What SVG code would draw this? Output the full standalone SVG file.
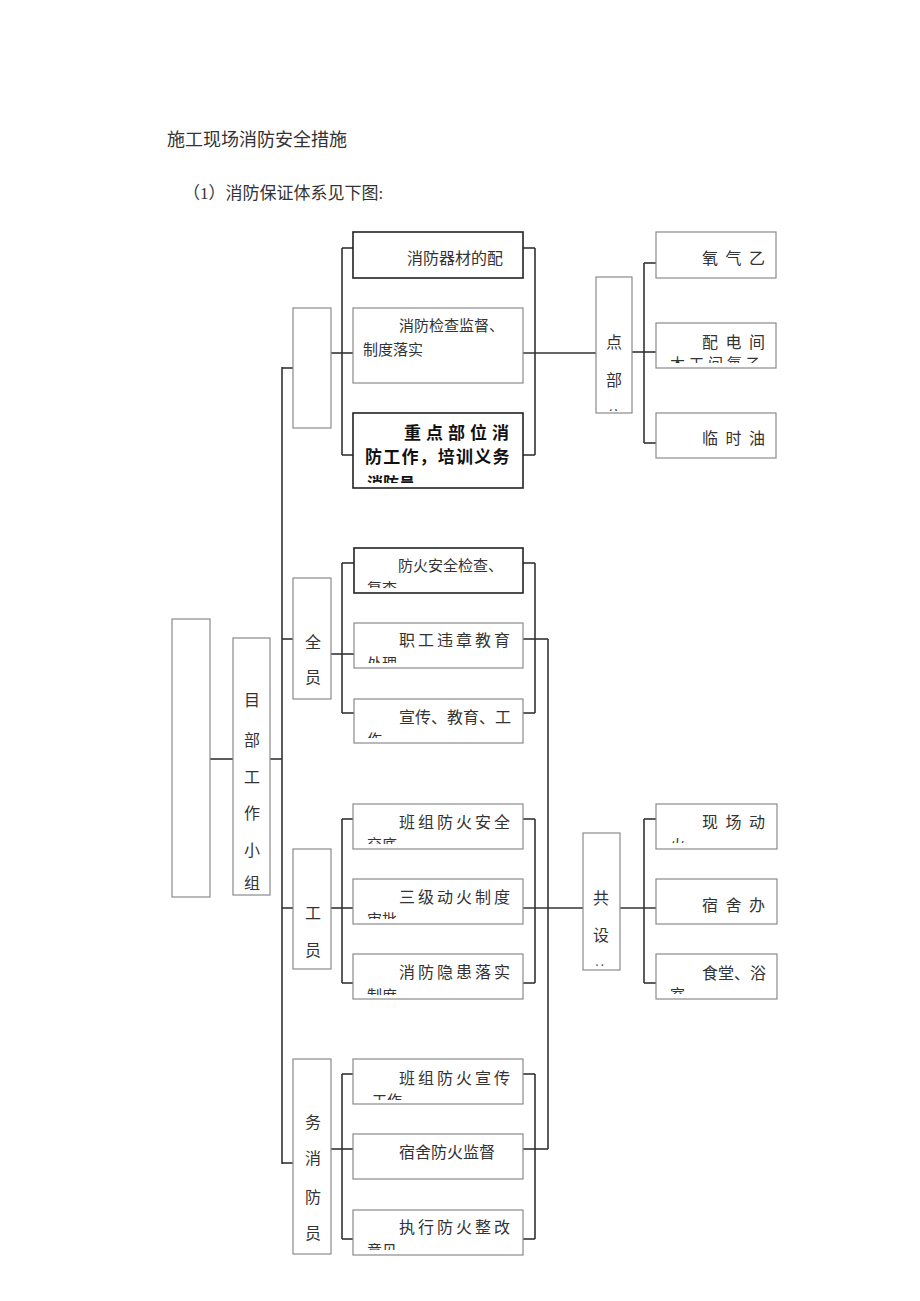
<svg xmlns="http://www.w3.org/2000/svg" width="920" height="1301" viewBox="0 0 920 1301">
<style>
.bg{fill:#fff}
.bx{fill:#fff;stroke:#8a8a8a;stroke-width:1.2}
.dk{fill:#fff;stroke:#222;stroke-width:1.6}
.t{font-family:"Liberation Serif","Noto Sans CJK SC",serif;font-size:16px;fill:#333}
.s{font-size:15px}
.b{font-weight:bold;fill:#111;font-size:17px}
.v{text-anchor:middle}
.cn line{stroke:#333;stroke-width:1.6}
</style>
<defs>
<clipPath id="cA3"><rect x="353" y="413" width="170" height="70"/></clipPath>
<clipPath id="cP"><rect x="596" y="277" width="36" height="134"/></clipPath>
<clipPath id="cR2"><rect x="656" y="323" width="120" height="40"/></clipPath>
<clipPath id="cB1"><rect x="354" y="548" width="169" height="40"/></clipPath>
<clipPath id="cB2"><rect x="354" y="623" width="169" height="40"/></clipPath>
<clipPath id="cB3"><rect x="354" y="699" width="169" height="39"/></clipPath>
<clipPath id="cC1"><rect x="353" y="804" width="170" height="40"/></clipPath>
<clipPath id="cC2"><rect x="353" y="879" width="170" height="40"/></clipPath>
<clipPath id="cC3"><rect x="353" y="954" width="170" height="41"/></clipPath>
<clipPath id="cS"><rect x="583" y="833" width="37" height="133"/></clipPath>
<clipPath id="cD1"><rect x="656" y="804" width="121" height="39"/></clipPath>
<clipPath id="cD3"><rect x="656" y="954" width="121" height="40"/></clipPath>
<clipPath id="cE1"><rect x="353" y="1059" width="170" height="41"/></clipPath>
<clipPath id="cE3"><rect x="353" y="1210" width="170" height="40"/></clipPath>
<clipPath id="cM"><rect x="233" y="638" width="37" height="253"/></clipPath>
</defs>
<rect class="bg" x="0" y="0" width="920" height="1301"/>
<text class="t" x="167" y="146" style="font-size:18px">施工现场消防安全措施</text>
<text class="t" x="183" y="199" style="font-size:17px">（1）消防保证体系见下图:</text>

<g class="cn" id="connectors">
<line x1="210" y1="759" x2="233" y2="759"/>
<line x1="270" y1="759" x2="282" y2="759"/>
<line x1="282" y1="367" x2="282" y2="1164"/>
<line x1="282" y1="368" x2="293" y2="368"/>
<line x1="282" y1="639" x2="293" y2="639"/>
<line x1="282" y1="908" x2="293" y2="908"/>
<line x1="282" y1="1163" x2="293" y2="1163"/>
<line x1="331" y1="353" x2="353" y2="353"/>
<line x1="342" y1="248" x2="342" y2="455"/>
<line x1="342" y1="248" x2="353" y2="248"/>
<line x1="342" y1="455" x2="353" y2="455"/>
<line x1="523" y1="248" x2="535" y2="248"/>
<line x1="523" y1="455" x2="535" y2="455"/>
<line x1="535" y1="248" x2="535" y2="455"/>
<line x1="523" y1="353" x2="596" y2="353"/>
<line x1="632" y1="352" x2="656" y2="352"/>
<line x1="644" y1="263" x2="644" y2="443"/>
<line x1="644" y1="263" x2="656" y2="263"/>
<line x1="644" y1="443" x2="656" y2="443"/>
<line x1="331" y1="654" x2="354" y2="654"/>
<line x1="342" y1="563" x2="342" y2="713"/>
<line x1="342" y1="563" x2="354" y2="563"/>
<line x1="342" y1="713" x2="354" y2="713"/>
<line x1="523" y1="563" x2="535" y2="563"/>
<line x1="523" y1="713" x2="535" y2="713"/>
<line x1="535" y1="563" x2="535" y2="713"/>
<line x1="523" y1="639" x2="548" y2="639"/>
<line x1="548" y1="639" x2="548" y2="1149"/>
<line x1="331" y1="908" x2="353" y2="908"/>
<line x1="342" y1="819" x2="342" y2="983"/>
<line x1="342" y1="819" x2="353" y2="819"/>
<line x1="342" y1="983" x2="353" y2="983"/>
<line x1="523" y1="819" x2="535" y2="819"/>
<line x1="523" y1="983" x2="535" y2="983"/>
<line x1="535" y1="819" x2="535" y2="983"/>
<line x1="523" y1="908" x2="583" y2="908"/>
<line x1="620" y1="908" x2="656" y2="908"/>
<line x1="644" y1="819" x2="644" y2="983"/>
<line x1="644" y1="819" x2="656" y2="819"/>
<line x1="644" y1="983" x2="656" y2="983"/>
<line x1="331" y1="1149" x2="353" y2="1149"/>
<line x1="342" y1="1074" x2="342" y2="1239"/>
<line x1="342" y1="1074" x2="353" y2="1074"/>
<line x1="342" y1="1239" x2="353" y2="1239"/>
<line x1="523" y1="1074" x2="535" y2="1074"/>
<line x1="523" y1="1239" x2="535" y2="1239"/>
<line x1="535" y1="1074" x2="535" y2="1239"/>
<line x1="523" y1="1149" x2="548" y2="1149"/>
</g>

<g id="root"><rect class="bx" x="172" y="619" width="38" height="278"/></g>
<g id="team"><rect class="bx" x="233" y="638" width="37" height="257"/>
<g clip-path="url(#cM)">
<text class="t v" x="252" y="706">目</text><text class="t v" x="252" y="746">部</text><text class="t v" x="252" y="783">工</text><text class="t v" x="252" y="819">作</text><text class="t v" x="252" y="856">小</text><text class="t v" x="252" y="889">组</text></g></g>

<g id="gA"><rect class="bx" x="293" y="308" width="38" height="120"/></g>
<g id="a1"><rect class="dk" x="353" y="232" width="170" height="46"/><text class="t" x="407" y="264">消防器材的配</text></g>
<g id="a2"><rect class="bx" x="353" y="308" width="170" height="75"/><text class="t s" x="399" y="331">消防检查监督、</text><text class="t s" x="363" y="355">制度落实</text></g>
<g id="a3"><rect class="dk" x="353" y="413" width="170" height="75"/>
<text class="t b" x="404" y="439" letter-spacing="5">重点部位消</text>
<text class="t b" x="365" y="463" letter-spacing="1.2">防工作，培训义务</text>
<g clip-path="url(#cA3)"><text class="t b" x="367" y="489" style="font-size:16px">消防员</text></g></g>

<g id="pt"><rect class="bx" x="596" y="277" width="36" height="136"/>
<text class="t v" x="614" y="348">点</text><text class="t v" x="614" y="386">部</text>
<g clip-path="url(#cP)"><text class="t v" x="614" y="423">位</text></g></g>
<g id="r1"><rect class="bx" x="656" y="232" width="120" height="46"/><text class="t" x="702" y="264" letter-spacing="7.5">氧气乙</text></g>
<g id="r2"><rect class="bx" x="656" y="323" width="120" height="45"/><text class="t" x="702" y="348" letter-spacing="7.5">配电间</text>
<g clip-path="url(#cR2)"><text class="t s" x="670" y="369" letter-spacing="4">木工间氧乙</text></g></g>
<g id="r3"><rect class="bx" x="656" y="413" width="120" height="45"/><text class="t" x="702" y="444" letter-spacing="7.5">临时油</text></g>

<g id="gB"><rect class="bx" x="293" y="578" width="38" height="121"/><text class="t v" x="313" y="648">全</text><text class="t v" x="313" y="683">员</text></g>
<g id="b1"><rect class="dk" x="354" y="548" width="169" height="45"/><text class="t s" x="398" y="571">防火安全检查、</text>
<g clip-path="url(#cB1)"><text class="t s" x="367" y="594">复查</text></g></g>
<g id="b2"><rect class="bx" x="354" y="623" width="169" height="45"/><text class="t" x="399" y="646" letter-spacing="3">职工违章教育</text>
<g clip-path="url(#cB2)"><text class="t s" x="367" y="669">处理</text></g></g>
<g id="b3"><rect class="bx" x="354" y="699" width="169" height="44"/><text class="t" x="399" y="723">宣传、教育、工</text>
<g clip-path="url(#cB3)"><text class="t s" x="367" y="745">作</text></g></g>

<g id="gC"><rect class="bx" x="293" y="849" width="38" height="120"/><text class="t v" x="313" y="919">工</text><text class="t v" x="313" y="956">员</text></g>
<g id="c1"><rect class="bx" x="353" y="804" width="170" height="45"/><text class="t" x="399" y="828" letter-spacing="3">班组防火安全</text>
<g clip-path="url(#cC1)"><text class="t s" x="367" y="850">交底</text></g></g>
<g id="c2"><rect class="bx" x="353" y="879" width="170" height="45"/><text class="t" x="399" y="903" letter-spacing="3">三级动火制度</text>
<g clip-path="url(#cC2)"><text class="t s" x="367" y="925">审批</text></g></g>
<g id="c3"><rect class="bx" x="353" y="954" width="170" height="45"/><text class="t" x="399" y="978" letter-spacing="3">消防隐患落实</text>
<g clip-path="url(#cC3)"><text class="t s" x="367" y="1001">制度</text></g></g>

<g id="share"><rect class="bx" x="583" y="833" width="37" height="137"/>
<text class="t v" x="601" y="904">共</text><text class="t v" x="601" y="941">设</text>
<g clip-path="url(#cS)"><text class="t v" x="601" y="978">施</text></g></g>
<g id="d1"><rect class="bx" x="656" y="804" width="121" height="45"/><text class="t" x="702" y="828" letter-spacing="7.5">现场动</text>
<g clip-path="url(#cD1)"><text class="t s" x="670" y="850">火</text></g></g>
<g id="d2"><rect class="bx" x="656" y="879" width="121" height="45"/><text class="t" x="702" y="911" letter-spacing="7.5">宿舍办</text></g>
<g id="d3"><rect class="bx" x="656" y="954" width="121" height="45"/><text class="t" x="702" y="979">食堂、浴</text>
<g clip-path="url(#cD3)"><text class="t s" x="670" y="1000">室</text></g></g>

<g id="gD"><rect class="bx" x="293" y="1059" width="38" height="195"/>
<text class="t v" x="313" y="1128">务</text><text class="t v" x="313" y="1164">消</text><text class="t v" x="313" y="1203">防</text><text class="t v" x="313" y="1239">员</text></g>
<g id="e1"><rect class="bx" x="353" y="1059" width="170" height="45"/><text class="t" x="399" y="1084" letter-spacing="3">班组防火宣传</text>
<g clip-path="url(#cE1)"><text class="t s" x="372" y="1106">工作</text></g></g>
<g id="e2"><rect class="bx" x="353" y="1134" width="170" height="45"/><text class="t" x="399" y="1158">宿舍防火监督</text></g>
<g id="e3"><rect class="bx" x="353" y="1210" width="170" height="45"/><text class="t" x="399" y="1233" letter-spacing="3">执行防火整改</text>
<g clip-path="url(#cE3)"><text class="t s" x="367" y="1256">意见</text></g></g>
</svg>
